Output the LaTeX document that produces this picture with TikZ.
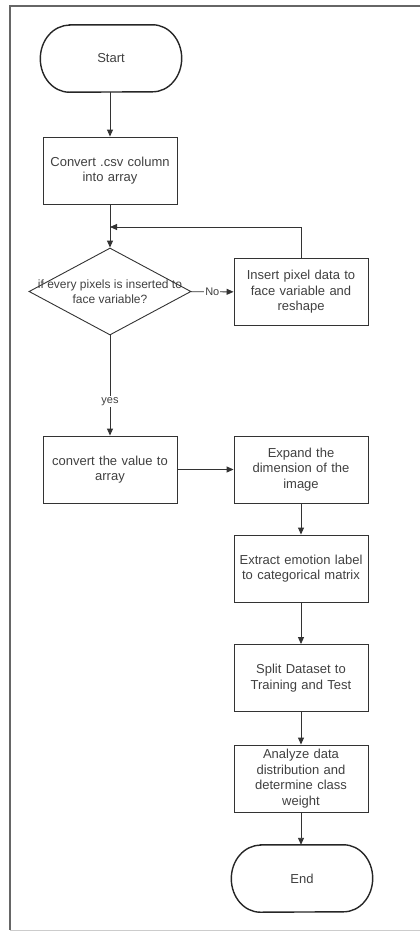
\documentclass[tikz,border=0pt]{standalone}
\usepackage{fontspec}
\setmainfont{Liberation Sans}
\usetikzlibrary{arrows.meta,shapes.geometric}
\begin{document}
\begin{tikzpicture}[x=1pt,y=-1pt,
  line/.style={draw=black!80, line width=0.9pt},
  box/.style={line, rectangle, minimum width=134pt, minimum height=67pt, text width=128pt, align=center, inner sep=0pt, font=\fontsize{13}{15.5}\selectfont, text=black!75},
  term/.style={rectangle, minimum width=141pt, minimum height=67pt, inner sep=0pt, align=center, font=\fontsize{13}{15.5}\selectfont, text=black!75},
  termline/.style={draw=black!85, line width=1.4pt},
  dec/.style={line, diamond, minimum width=162pt, minimum height=87pt, inner sep=0pt},
  dectext/.style={align=center, inner sep=0pt, font=\fontsize{12}{15}\selectfont, text=black!75},
  arr/.style={line, -{Triangle[length=7pt,width=6pt]}},
  lbl/.style={fill=white, inner sep=1pt, font=\fontsize{11}{13}\selectfont, text=black!75},
  frame/.style={draw=black!60, line width=1.5pt}
]
\useasboundingbox (0,0) rectangle (420,932);
\draw[frame] (420,6) -- (10,6) -- (10,930);
\draw[draw=black!20, line width=1pt] (10,930) -- (420,930);

\node[term] (start) at (111,58.5) {Start};
\node[box] (conv1) at (110,170.5) {Convert .csv column\\into array};
\node[dec] (dec) at (110,291.5) {};
\node[dectext] (dect) at (dec.center) {if every pixels is inserted to\\face variable?};
\node[box] (ins) at (301,292) {Insert pixel data to\\face variable and\\reshape};
\node[box] (conv2) at (110,469.5) {convert the value to\\array};
\node[box] (exp) at (301,469.5) {Expand the\\dimension of the\\image};
\node[box] (ext) at (301,568.5) {Extract emotion label\\to categorical matrix};
\node[box] (split) at (301,678) {Split Dataset to\\Training and Test};
\node[box] (ana) at (301,778.5) {Analyze data\\distribution and\\determine class\\weight};
\node[term] (end) at (302,878.5) {End};
\coordinate (j) at (110,227);

\foreach \t in {start,end}{
  \draw[termline] ([xshift=29pt]\t.north west) -- ([xshift=-29pt]\t.north east)
    arc[start angle=90, end angle=-90, x radius=29pt, y radius=33.5pt]
    -- ([xshift=29pt]\t.south west)
    arc[start angle=270, end angle=90, x radius=29pt, y radius=33.5pt] -- cycle;
}

\draw[arr] (start.south -| conv1.north) -- (conv1);
\draw[arr] (conv1) -- (dec);
\draw[arr] (dec) -- node[lbl] {No} (ins);
\draw[arr] (ins.north) |- (j);
\draw[arr] (dec) -- node[lbl, pos=0.66] {yes} (conv2);
\draw[arr] (conv2) -- (exp);
\draw[arr] (exp) -- (ext);
\draw[arr] (ext) -- (split);
\draw[arr] (split) -- (ana);
\draw[arr] (ana) -- (end.north -| ana.south);
\end{tikzpicture}
\end{document}
